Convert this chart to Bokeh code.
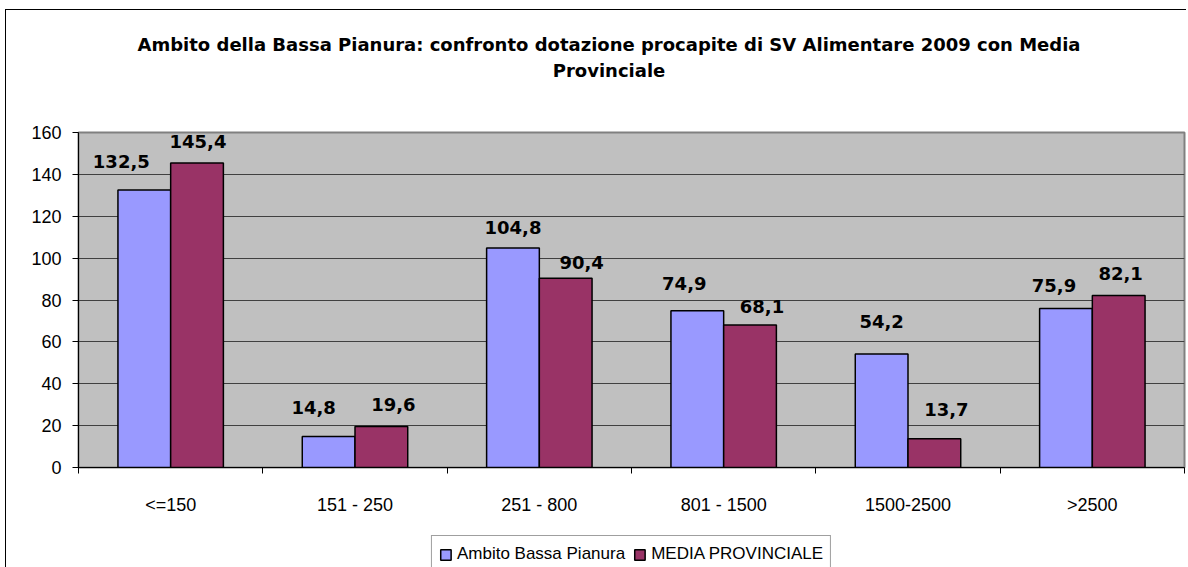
import numpy as np
from bokeh.plotting import figure
from bokeh.layouts import column
from bokeh.models import (Range1d, FixedTicker, Label, Legend, LegendItem,
                          ColumnDataSource, LabelSet)
from bokeh.core.properties import value
from bokeh.embed import file_html
from bokeh.resources import INLINE

# ---------------- data ----------------
categories = ["<=150", "151 - 250", "251 - 800", "801 - 1500", "1500-2500", ">2500"]
ambito = [132.5, 14.8, 104.8, 74.9, 54.2, 75.9]
media = [145.4, 19.6, 90.4, 68.1, 13.7, 82.1]
series_names = ["Ambito Bassa Pianura", "MEDIA PROVINCIALE"]
y_ticks = [0, 20, 40, 60, 80, 100, 120, 140, 160]
title_lines = ["Ambito della Bassa Pianura: confronto dotazione procapite di SV Alimentare 2009 con Media",
               "Provinciale"]

# ---------------- style / layout ----------------
BLUE = "#9999FF"
RED = "#993366"
BAR_W = 0.286
W = 1180
# manual label nudges (pixels) as placed in the original chart
amb_dx = [-23, -15, 0, -13, 0, -12]
amb_dy = [29, 29, 21, 27, 33, 23]
med_dx = [1, 12, 16, 12, 12, 2]
med_dy = [22, 22, 16, 18, 29, 22]

def fmt(v):
    return f"{v:.1f}".replace(".", ",")

n = len(categories)
centers = np.arange(n) + 0.5

# ---------- title strip ----------
TH = 90
tf = figure(width=W, height=TH, x_range=Range1d(0, W), y_range=Range1d(TH, 0),
            x_axis_type=None, y_axis_type=None, output_backend="svg",
            toolbar_location=None, min_border=0)
tf.outline_line_color = None
tf.xgrid.visible = False
tf.ygrid.visible = False
tf.background_fill_color = "white"
tf.border_fill_color = "white"
for i, line in enumerate(title_lines):
    tf.add_layout(Label(x=566, y=34 + 26 * i, text=line, text_align="center",
                        text_baseline="middle", text_font="DejaVu Sans",
                        text_font_style="bold", text_font_size="18px",
                        text_color="black"))

# ---------- main chart ----------
p = figure(width=W, height=435,
           x_range=Range1d(0, n), y_range=Range1d(0, 160),
           output_backend="svg", toolbar_location=None,
           min_border_left=72, min_border_right=2,
           min_border_top=32, min_border_bottom=68)
p.background_fill_color = "#C0C0C0"
p.border_fill_color = "white"
p.outline_line_color = "#808080"
p.outline_line_width = 2

src_a = ColumnDataSource(dict(x=centers - BAR_W / 2, top=ambito,
                              txt=[fmt(v) for v in ambito], dx=amb_dx, dy=amb_dy))
src_m = ColumnDataSource(dict(x=centers + BAR_W / 2, top=media,
                              txt=[fmt(v) for v in media], dx=med_dx, dy=med_dy))

p.vbar(x="x", top="top", width=BAR_W, bottom=0, source=src_a,
       fill_color=BLUE, line_color="black", line_width=1.5)
p.vbar(x="x", top="top", width=BAR_W, bottom=0, source=src_m,
       fill_color=RED, line_color="black", line_width=1.5)

for src in (src_a, src_m):
    p.add_layout(LabelSet(x="x", y="top", text="txt", x_offset="dx", y_offset="dy",
                          source=src, text_align="center", text_baseline="middle",
                          text_font=value("DejaVu Sans"), text_font_style="bold",
                          text_font_size="18px", text_color="black"))

p.xgrid.grid_line_color = None
p.ygrid.grid_line_color = "#404040"
p.ygrid.grid_line_width = 1
p.ygrid.ticker = FixedTicker(ticks=y_ticks)

p.yaxis.ticker = FixedTicker(ticks=y_ticks)
p.yaxis.major_tick_out = 6
p.yaxis.major_tick_in = 0
p.yaxis.minor_tick_line_color = None
p.yaxis.axis_line_color = "black"
p.yaxis.major_tick_line_color = "black"
p.yaxis.major_label_text_font = "Liberation Sans"
p.yaxis.major_label_text_font_size = "18px"
p.yaxis.major_label_text_color = "black"
p.yaxis.major_label_standoff = 11

p.xaxis.ticker = FixedTicker(ticks=list(centers), minor_ticks=list(range(n + 1)))
p.xaxis.major_label_overrides = {float(c): lab for c, lab in zip(centers, categories)}
p.xaxis.major_tick_line_color = None
p.xaxis.major_tick_out = 0
p.xaxis.major_tick_in = 0
p.xaxis.minor_tick_line_color = "black"
p.xaxis.minor_tick_out = 6
p.xaxis.minor_tick_in = 0
p.xaxis.axis_line_color = "black"
p.xaxis.major_label_text_font = "Liberation Sans"
p.xaxis.major_label_text_font_size = "18px"
p.xaxis.major_label_text_color = "black"
p.xaxis.major_label_standoff = 21

# ---------- legend strip ----------
lf = figure(width=W, height=32, x_range=Range1d(0, 1), y_range=Range1d(0, 1),
            x_axis_type=None, y_axis_type=None, output_backend="svg",
            toolbar_location=None, min_border=0)
lf.outline_line_color = None
lf.xgrid.visible = False
lf.ygrid.visible = False
lf.background_fill_color = "white"
lf.border_fill_color = "white"
# key glyphs hidden behind the legend box, only used to draw the swatches
ka = lf.vbar(x=[0.5], bottom=[0.2], top=[0.8], width=0.01, fill_color=BLUE,
             line_color="black", line_width=1.5)
km = lf.vbar(x=[0.5], bottom=[0.2], top=[0.8], width=0.01, fill_color=RED,
             line_color="black", line_width=1.5)
legend = Legend(items=[LegendItem(label=series_names[0], renderers=[ka]),
                       LegendItem(label=series_names[1], renderers=[km])],
                orientation="horizontal", location="top_center",
                label_text_font="Liberation Sans", label_text_font_size="17px",
                label_text_color="black", glyph_width=13, glyph_height=13,
                label_standoff=5, spacing=8, padding=7, margin=0,
                border_line_color="#404040", border_line_width=1,
                background_fill_color="white", background_fill_alpha=1.0,
                label_height=22)
lf.add_layout(legend, "center")

layout = column(tf, p, lf, spacing=0)
layout.styles = {"border-left": "1px solid black", "border-top": "1px solid black",
                 "margin-left": "5px", "margin-top": "9px"}

open("out.html", "w").write(file_html(layout, INLINE))
